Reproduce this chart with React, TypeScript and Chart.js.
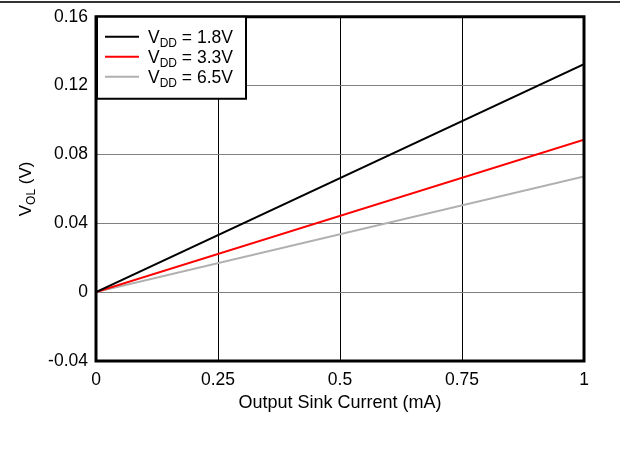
import React, { useEffect, useRef } from "react";
import { Chart, registerables } from "chart.js";
Chart.register(...registerables);

const current = [0, 1];
const vdd18 = [0, 0.1325];
const vdd33 = [0, 0.0885];
const vdd65 = [0, 0.0672];
const seriesNames = ["1.8V", "3.3V", "6.5V"];
const seriesColors = ["#000000", "#ff0000", "#b0b0b0"];
const yTickLabels: Record<string, string> = { "-0.04": "-0.04", "0": "0", "0.04": "0.04", "0.08": "0.08", "0.12": "0.12", "0.16": "0.16" };
const xTickLabels: Record<string, string> = { "0": "0", "0.25": "0.25", "0.5": "0.5", "0.75": "0.75", "1": "1" };

const FONT = "Liberation Sans, Arial, sans-serif";

const overlay = {
  id: "overlay",
  afterDraw(chart: any) {
    const { ctx, chartArea: a } = chart;
    ctx.save();
    // border
    ctx.strokeStyle = "#000";
    ctx.lineWidth = 3;
    ctx.strokeRect(a.left, a.top, a.right - a.left, a.bottom - a.top);
    // legend
    const lx = a.left, ly = a.top, lw = 150, lh = 82;
    ctx.fillStyle = "#fff";
    ctx.fillRect(lx, ly, lw, lh);
    ctx.lineWidth = 2;
    ctx.strokeRect(lx + 1, ly, lw - 1, lh);
    seriesNames.forEach((n, i) => {
      const y = ly + 20 + i * 20;
      ctx.strokeStyle = seriesColors[i];
      ctx.lineWidth = 2;
      ctx.beginPath();
      ctx.moveTo(lx + 9, y);
      ctx.lineTo(lx + 43, y);
      ctx.stroke();
      ctx.fillStyle = "#000";
      ctx.textBaseline = "alphabetic";
      ctx.textAlign = "left";
      ctx.font = `17.5px ${FONT}`;
      let x = lx + 52;
      ctx.fillText("V", x, y + 6);
      x += ctx.measureText("V").width;
      ctx.font = `12px ${FONT}`;
      ctx.fillText("DD", x, y + 10);
      x += ctx.measureText("DD").width;
      ctx.font = `17.5px ${FONT}`;
      ctx.fillText(" = " + n, x, y + 6);
    });
    // x title
    ctx.fillStyle = "#000";
    ctx.font = `18px ${FONT}`;
    ctx.textAlign = "center";
    ctx.textBaseline = "middle";
    ctx.fillText("Output Sink Current (mA)", (a.left + a.right) / 2, 403);
    // y title
    ctx.translate(25, (a.top + a.bottom) / 2);
    ctx.rotate(-Math.PI / 2);
    ctx.textAlign = "left";
    ctx.textBaseline = "alphabetic";
    ctx.font = `17px ${FONT}`;
    const p1 = "V", p2 = "OL", p3 = " (V)";
    const w1 = ctx.measureText(p1).width, w3 = ctx.measureText(p3).width;
    ctx.font = `12px ${FONT}`;
    const w2 = ctx.measureText(p2).width;
    let x = -(w1 + w2 + w3) / 2;
    ctx.font = `17px ${FONT}`;
    ctx.fillText(p1, x, 6);
    x += w1;
    ctx.font = `12px ${FONT}`;
    ctx.fillText(p2, x, 10);
    x += w2;
    ctx.font = `17px ${FONT}`;
    ctx.fillText(p3, x, 6);
    ctx.restore();
  },
};

export default function App() {
  const ref = useRef<HTMLCanvasElement>(null);
  useEffect(() => {
    document.body.style.margin = "0";
    const mk = (ys: number[]) => current.map((x, i) => ({ x, y: ys[i] }));
    const chart = new Chart(ref.current!, {
      type: "line",
      data: {
        datasets: [vdd18, vdd33, vdd65].map((d, i) => ({
          label: seriesNames[i],
          data: mk(d),
          borderColor: seriesColors[i],
          borderWidth: 2,
          pointRadius: 0,
          fill: false,
        })),
      },
      options: {
        animation: false,
        responsive: false,
        maintainAspectRatio: false,
        layout: { padding: { top: 15, right: 41, left: 0, bottom: 0 } },
        plugins: { legend: { display: false }, tooltip: { enabled: false } },
        scales: {
          x: {
            type: "linear",
            min: 0,
            max: 1,
            ticks: {
              stepSize: 0.25,
              color: "#000",
              font: { family: FONT, size: 17.5 },
              padding: 9,
              maxRotation: 0,
              callback: (v: any) => xTickLabels[String(v)] ?? "",
            },
            grid: { color: "#000", lineWidth: 1, drawTicks: false },
            border: { display: false },
            afterFit: (s: any) => { s.height = 96; },
          },
          y: {
            type: "linear",
            min: -0.04,
            max: 0.16,
            ticks: {
              stepSize: 0.04,
              color: "#000",
              font: { family: FONT, size: 17.5, lineHeight: 1 },
              padding: 8,
              callback: (v: any) => yTickLabels[String(Math.round(Number(v) * 100) / 100)] ?? "",
            },
            grid: { color: "#808080", lineWidth: 1, drawTicks: false },
            border: { display: false },
            afterFit: (s: any) => { s.width = 96; },
          },
        },
      },
      plugins: [overlay],
    });
    return () => chart.destroy();
  }, []);
  return (
    <div style={{ position: "relative", width: 625, height: 457, background: "#fff" }}>
      <div style={{ position: "absolute", left: 0, top: 1, width: 620, height: 0, borderTop: "2px solid #333" }} />
      <canvas ref={ref} width={625} height={457} style={{ display: "block" }} />
    </div>
  );
}
